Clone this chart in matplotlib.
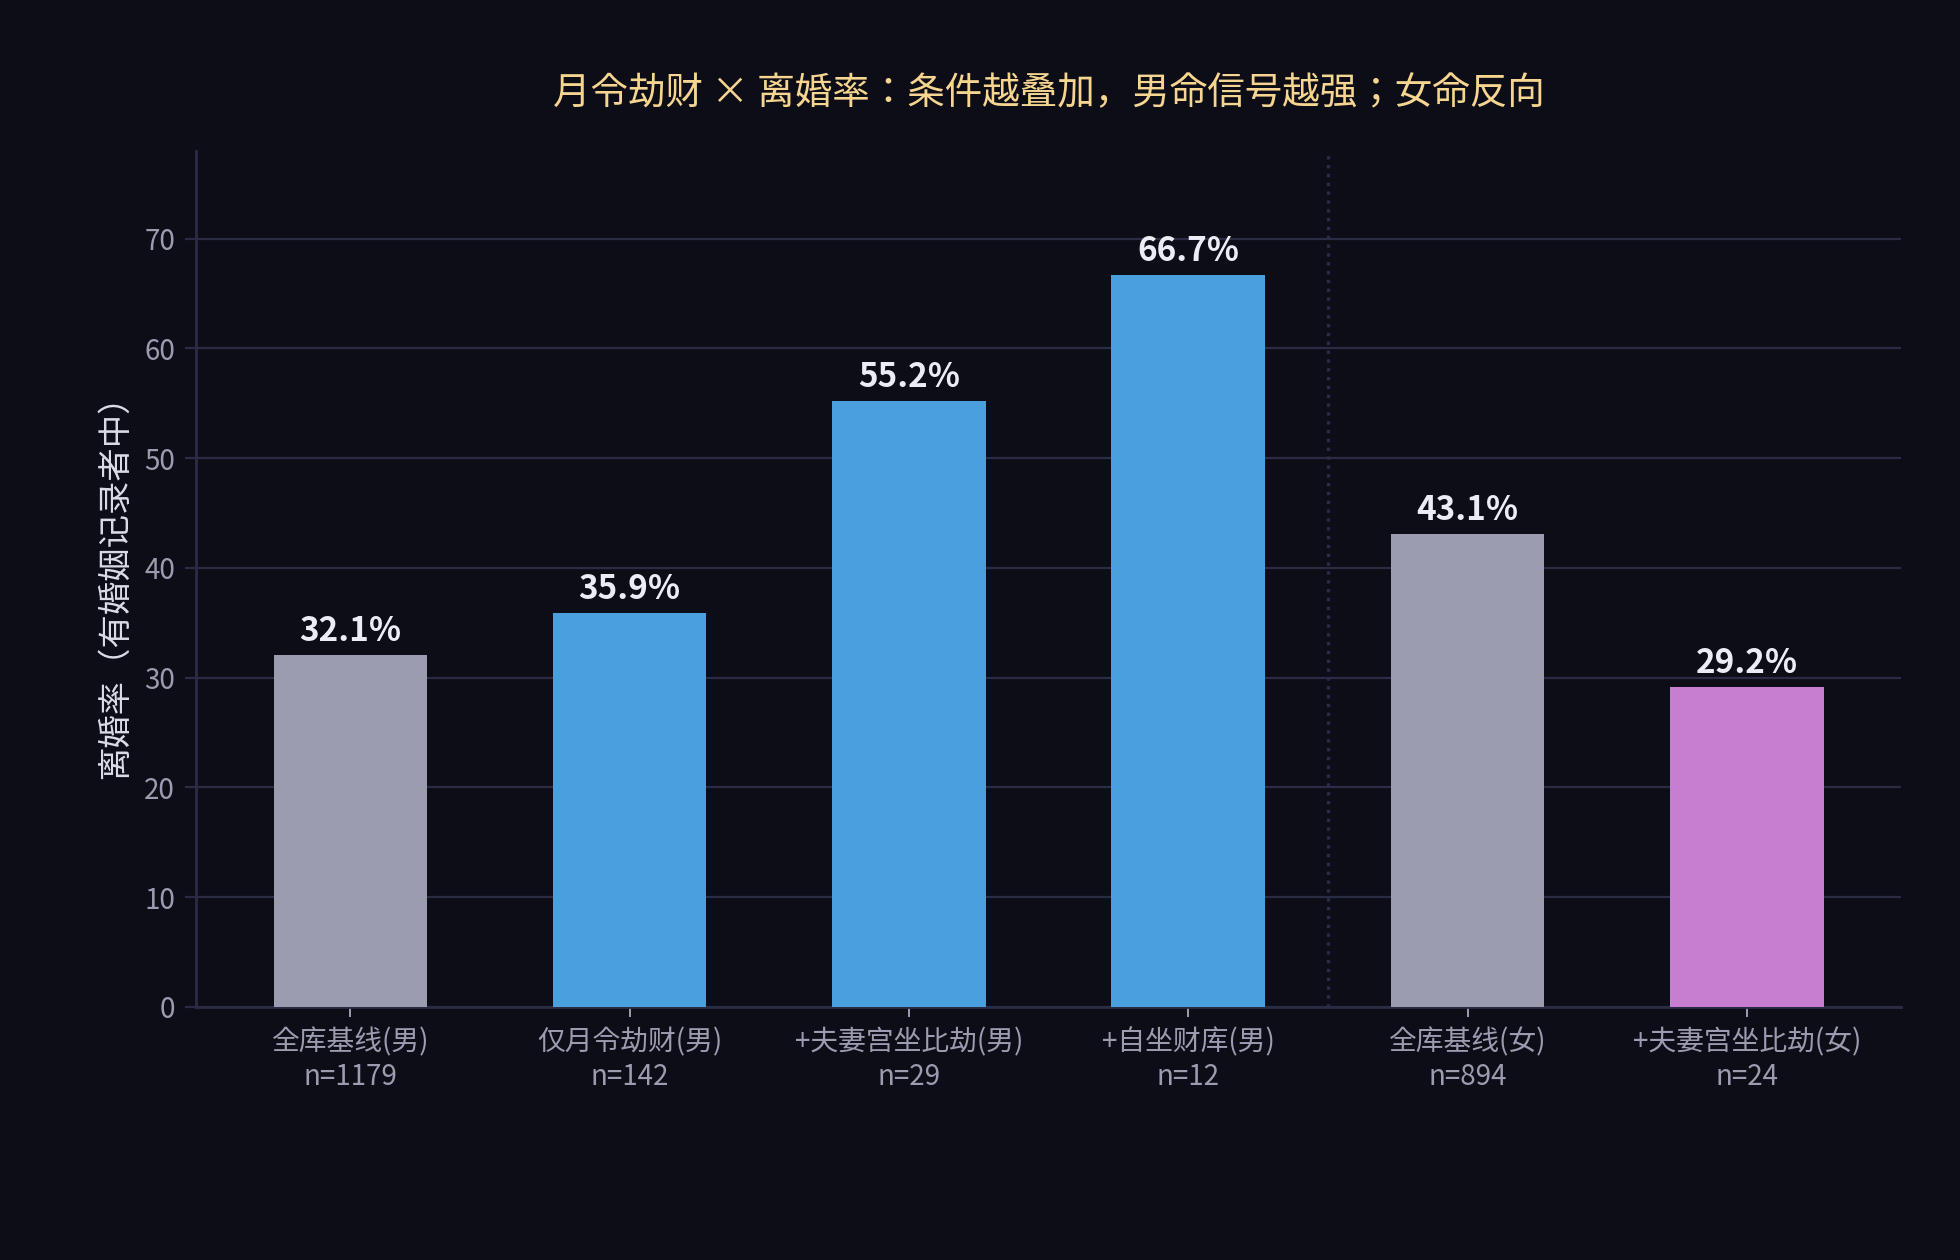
import matplotlib
matplotlib.use("Agg")
import matplotlib.pyplot as plt

plt.rcParams['font.family'] = ['Noto Sans CJK JP', 'DejaVu Sans']

categories = ["全库基线(男)\nn=1179", "仅月令劫财(男)\nn=142", "+夫妻宫坐比劫(男)\nn=29",
              "+自坐财库(男)\nn=12", "全库基线(女)\nn=894", "+夫妻宫坐比劫(女)\nn=24"]
rates = [32.1, 35.9, 55.2, 66.7, 43.1, 29.2]
colors = ["#9b9cb0", "#4a9fdf", "#4a9fdf", "#4a9fdf", "#9b9cb0", "#c77dd0"]
yticks = [0, 10, 20, 30, 40, 50, 60, 70]
title = "月令劫财 × 离婚率：条件越叠加，男命信号越强；女命反向"
ylabel = "离婚率（有婚姻记录者中）"

BG = "#0d0d18"
GRID = "#2a2c45"

fig = plt.figure(figsize=(9.8, 6.3), dpi=200, facecolor=BG)
ax = fig.add_axes([0.1, 0.2008, 0.87, 0.6794])
ax.set_facecolor(BG)

x = list(range(len(rates)))
bars = ax.bar(x, rates, width=0.55, color=colors, zorder=3)
for xi, v in zip(x, rates):
    ax.annotate(f"{v:.1f}%", (xi, v), xytext=(0, 2.5), textcoords="offset points",
                ha="center", va="bottom", fontsize=12, fontweight="bold", color="#ececf4", zorder=4)

ax.axvline(3.5, color=GRID, linestyle=":", linewidth=1.2, zorder=1)

ax.set_ylim(0, 78)
ax.set_yticks(yticks)
ax.set_xticks(x)
ax.set_xticklabels(categories, fontsize=10, color="#9b9cb0", linespacing=1.2)
ax.tick_params(axis="y", labelsize=10, labelcolor="#9b9cb0", color=GRID, length=4)
ax.tick_params(axis="x", color="#9b9cb0", length=3.5, width=0.7, pad=4)
ax.grid(axis="y", color=GRID, linewidth=0.8, zorder=0)
ax.set_axisbelow(True)
for s in ["top", "right"]:
    ax.spines[s].set_visible(False)
for s in ["left", "bottom"]:
    ax.spines[s].set_color(GRID)
    ax.spines[s].set_linewidth(1.0)

ax.set_ylabel(ylabel, fontsize=12, color="#dcdce8", labelpad=4)
ax.set_title(title, fontsize=13.5, color="#f5d590", pad=17)

fig.savefig("out.png", dpi=200, facecolor=BG)
